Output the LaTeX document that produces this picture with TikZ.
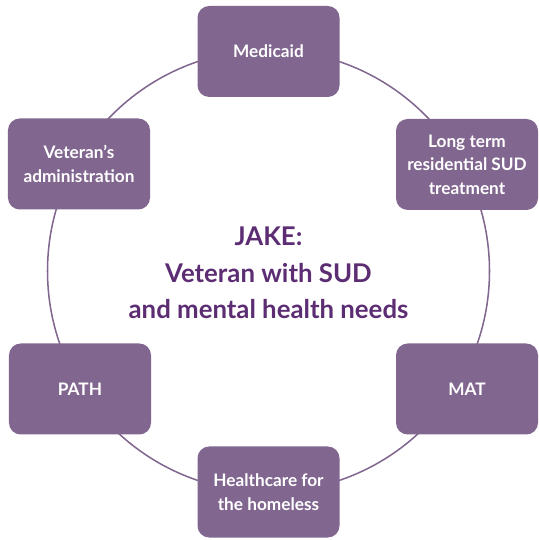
\documentclass[tikz,border=0pt]{standalone}
\usepackage{fontspec}
\setmainfont{Lato}
\usepackage{tikz}

\definecolor{boxpurple}{RGB}{129,102,143}
\definecolor{titlepurple}{RGB}{92,45,115}

\begin{document}
\begin{tikzpicture}[x=0.03cm,y=0.03cm]
		\useasboundingbox (0,0) rectangle (538,540);
		\tikzset{servicebox/.style={fill=boxpurple,draw=none,rounded corners=10pt,
			minimum width=4.26cm,minimum height=2.73cm,text=white,align=center,
			font=\fontsize{14.7}{20}\selectfont\bfseries}}
		\coordinate (C) at (268.5,269); %centre of the ring
		\draw[boxpurple,line width=1.3pt] (C) circle (221);
		\node[servicebox] (medicaid) at (268.5,488.5) {Medicaid}; %services
		\node[servicebox] (longterm) at (467,375.5) {Long term\\residential SUD\\treatment};
		\node[servicebox] (mat) at (467,151) {MAT};
		\node[servicebox] (homeless) at (268.5,48) {Healthcare for\\the homeless};
		\node[servicebox] (path) at (80,151) {PATH};
		\node[servicebox] (veterans) at (79,376) {Veteran’s\\administration};
		\node[text=titlepurple,align=center,font=\fontsize{22}{31}\selectfont\bfseries] (jake) at (268.5,267) {JAKE:\\Veteran with SUD\\and mental health needs}; %client
\end{tikzpicture}
\end{document}
